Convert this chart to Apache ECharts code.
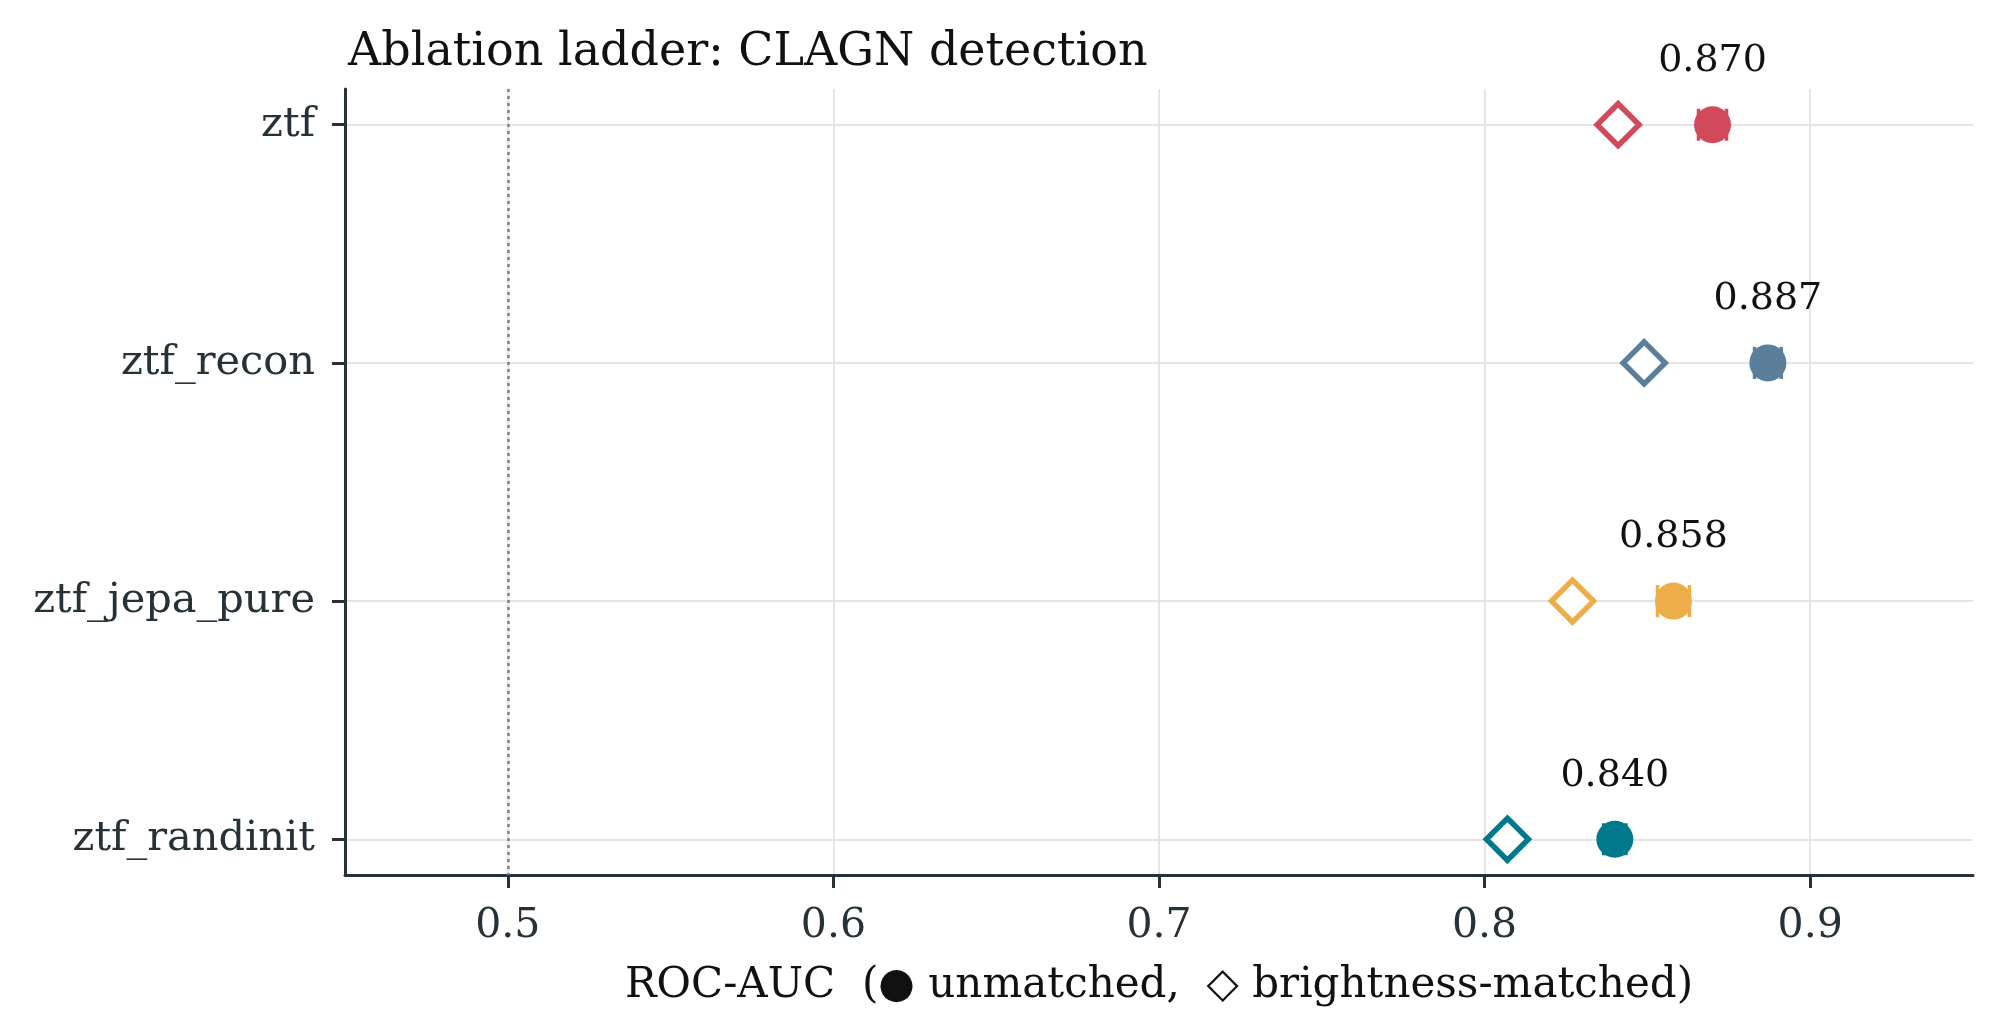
<!DOCTYPE html>
<html lang="en">
<head>
    <meta charset="UTF-8">
    <title>Ablation ladder</title>
    <style>
        html, body { margin: 0; padding: 0; background: #fff; }
        #chart { width: 2002px; height: 1035px; }
    </style>
</head>
<body>
    <div id="chart"></div>
    <script src="https://cdn.jsdelivr.net/npm/echarts@6/dist/echarts.min.js"></script>
    <script>
        // data
        var models = ['ztf', 'ztf_recon', 'ztf_jepa_pure', 'ztf_randinit'];
        var aucUnmatched = [0.870, 0.887, 0.858, 0.840];
        var aucMatched = [0.841, 0.849, 0.827, 0.807];
        var aucErr = [0.0043, 0.0041, 0.0049, 0.0034];
        var xTicks = [0.5, 0.6, 0.7, 0.8, 0.9];
        var rowIdx = [0, 1, 2, 3];

        var palette = ['#D1495B', '#5B7F9B', '#EDAE49', '#00798C'];
        var ink = '#263238';
        var font = 'DejaVu Serif';

        var chart = echarts.init(document.getElementById('chart'));

        var circles = models.map(function (m, i) {
            return { value: [aucUnmatched[i], i], itemStyle: { color: palette[i] } };
        });
        var diamonds = models.map(function (m, i) {
            return { value: [aucMatched[i], i], itemStyle: { color: '#fff', borderColor: palette[i] } };
        });
        var bars = models.map(function (m, i) {
            return [aucUnmatched[i] - aucErr[i], aucUnmatched[i] + aucErr[i], i];
        });

        chart.setOption({
            animation: false,
            title: {
                text: 'Ablation ladder: CLAGN detection',
                left: 343, top: 25,
                textStyle: { fontFamily: font, fontWeight: 'normal', fontSize: 46, color: '#111' }
            },
            grid: { left: 345, right: 29, top: 89, bottom: 160 },
            xAxis: {
                type: 'value', min: 0.45, max: 0.95,
                name: 'ROC-AUC  (\u25CF unmatched,  \u25C7 brightness-matched)',
                nameLocation: 'middle', nameGap: 90,
                nameTextStyle: { fontFamily: font, fontSize: 42, color: '#111' },
                axisLine: { show: true, onZero: false, lineStyle: { color: ink, width: 3 } },
                axisTick: { show: true, length: 13, customValues: xTicks, lineStyle: { color: ink, width: 3 } },
                axisLabel: {
                    customValues: xTicks, margin: 31,
                    fontFamily: font, fontSize: 41, color: ink,
                    formatter: function (v) { return String(Math.round(v * 10) / 10); }
                },
                splitLine: { show: true, lineStyle: { color: '#e5e5e5', width: 2 } }
            },
            yAxis: {
                type: 'value', min: -0.15, max: 3.15, inverse: true,
                axisLine: { show: true, onZero: false, lineStyle: { color: ink, width: 3 } },
                axisTick: { show: true, length: 13, customValues: rowIdx, lineStyle: { color: ink, width: 3 } },
                axisLabel: {
                    customValues: rowIdx, margin: 30,
                    fontFamily: font, fontSize: 41.5, color: ink,
                    formatter: function (v) { return models[Math.round(v)]; }
                },
                splitLine: { show: true, lineStyle: { color: '#e5e5e5', width: 2 } }
            },
            series: [
                {
                    type: 'custom',
                    z: 2,
                    data: bars,
                    renderItem: function (params, api) {
                        var lo = api.coord([api.value(0), api.value(2)]);
                        var hi = api.coord([api.value(1), api.value(2)]);
                        var c = palette[params.dataIndex];
                        var h = 16;
                        var st = { stroke: c, lineWidth: 3.5 };
                        return {
                            type: 'group',
                            children: [
                                { type: 'line', shape: { x1: lo[0], y1: lo[1], x2: hi[0], y2: hi[1] }, style: st },
                                { type: 'line', shape: { x1: lo[0], y1: lo[1] - h, x2: lo[0], y2: lo[1] + h }, style: st },
                                { type: 'line', shape: { x1: hi[0], y1: hi[1] - h, x2: hi[0], y2: hi[1] + h }, style: st }
                            ]
                        };
                    }
                },
                {
                    type: 'scatter',
                    z: 3,
                    symbol: 'circle',
                    symbolSize: 37,
                    itemStyle: { opacity: 1 },
                    data: circles,
                    label: {
                        show: true, position: 'top', distance: 26,
                        fontFamily: font, fontSize: 38, color: '#111',
                        formatter: function (p) { return p.value[0].toFixed(3); }
                    },
                    markLine: {
                        silent: true,
                        symbol: 'none',
                        label: { show: false },
                        lineStyle: { color: '#808080', type: [3, 4], width: 2.5 },
                        data: [{ xAxis: 0.5 }]
                    }
                },
                {
                    type: 'scatter',
                    z: 3,
                    symbol: 'diamond',
                    symbolSize: 42,
                    itemStyle: { borderWidth: 5.5, opacity: 1 },
                    data: diamonds
                }
            ]
        });
    </script>
</body>
</html>
